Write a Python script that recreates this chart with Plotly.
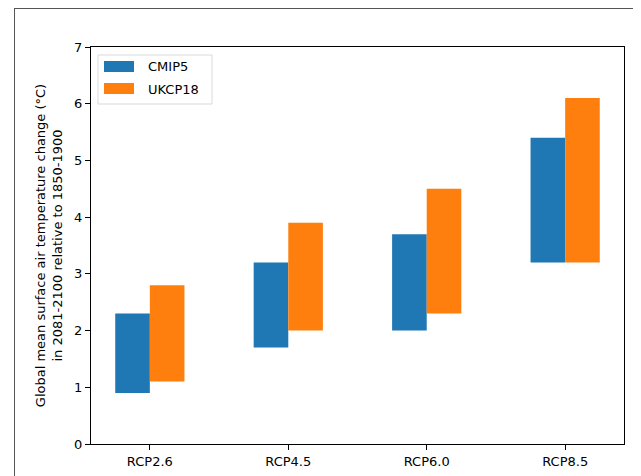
import plotly.graph_objects as go

scenarios = ["RCP2.6", "RCP4.5", "RCP6.0", "RCP8.5"]
cmip5_low = [0.9, 1.7, 2.0, 3.2]
cmip5_high = [2.3, 3.2, 3.7, 5.4]
ukcp18_low = [1.1, 2.0, 2.3, 3.2]
ukcp18_high = [2.8, 3.9, 4.5, 6.1]
series_names = ["CMIP5", "UKCP18"]
colors = ["#1f77b4", "#ff7f0e"]

# page offset (body margin of the html page)
OFF = 8
PW, PH = 641, 476
W, H = PW - OFF, PH - OFF
# plot area in page pixels
L, R, T, B = 91, 624, 47, 444

def px(x):
    return (x - L) / (R - L)

def py(y):
    return (B - y) / (B - T)

fig = go.Figure()
fig.add_trace(go.Bar(
    x=scenarios, y=[h - l for h, l in zip(cmip5_high, cmip5_low)], base=cmip5_low,
    name=series_names[0], marker=dict(color=colors[0], line=dict(width=0)),
    width=0.25, offset=-0.25, showlegend=False))
fig.add_trace(go.Bar(
    x=scenarios, y=[h - l for h, l in zip(ukcp18_high, ukcp18_low)], base=ukcp18_low,
    name=series_names[1], marker=dict(color=colors[1], line=dict(width=0)),
    width=0.25, offset=0.0, showlegend=False))

font = dict(family="DejaVu Sans", size=13, color="#000000")

fig.update_layout(
    width=W, height=H,
    margin=dict(l=L - OFF, r=PW - R, t=T - OFF, b=PH - B, pad=0, autoexpand=False),
    paper_bgcolor="white", plot_bgcolor="white",
    barmode="overlay",
    font=font,
    xaxis=dict(range=[-0.425, 3.425], showgrid=False, zeroline=False, automargin=False,
               showline=True, linecolor="black", linewidth=1, mirror=True,
               ticks="outside", ticklen=5, tickcolor="black",
               tickfont=dict(family="DejaVu Sans", size=13)),
    yaxis=dict(range=[0, 7], dtick=1, showgrid=False, zeroline=False, automargin=False,
               showline=True, linecolor="black", linewidth=1, mirror=True,
               ticks="outside", ticklen=5, tickcolor="black",
               tickfont=dict(family="DejaVu Sans", size=13),
               title=dict(text="Global mean surface air temperature change (°C)<br>in 2081-2100 relative to 1850-1900",
                          font=dict(family="DejaVu Sans", size=13), standoff=8)),
)

shapes = []
# manual legend
shapes.append(dict(type="rect", xref="paper", yref="paper",
                   x0=px(98), x1=px(212), y0=py(104), y1=py(55),
                   line=dict(color="#d9d9d9", width=1), fillcolor="rgba(255,255,255,0.8)"))
shapes.append(dict(type="rect", xref="paper", yref="paper",
                   x0=px(104), x1=px(134), y0=py(72), y1=py(61),
                   line=dict(width=0), fillcolor=colors[0]))
shapes.append(dict(type="rect", xref="paper", yref="paper",
                   x0=px(104), x1=px(134), y0=py(94), y1=py(83),
                   line=dict(width=0), fillcolor=colors[1]))
# window frame (screenshot border)
shapes.append(dict(type="line", xref="paper", yref="paper",
                   x0=px(14), x1=px(639), y0=py(8.5), y1=py(8.5),
                   line=dict(color="#555555", width=1)))
shapes.append(dict(type="line", xref="paper", yref="paper",
                   x0=px(14.5), x1=px(14.5), y0=py(8.5), y1=py(476),
                   line=dict(color="#555555", width=1)))
shapes.append(dict(type="line", xref="paper", yref="paper",
                   x0=px(639.5), x1=px(639.5), y0=py(8.5), y1=py(476),
                   line=dict(color="#cccccc", width=1)))
fig.update_layout(shapes=shapes)

annotations = [
    dict(xref="paper", yref="paper", x=px(146), y=py(66), text=series_names[0],
         showarrow=False, xanchor="left", yanchor="middle", font=font),
    dict(xref="paper", yref="paper", x=px(146), y=py(89), text=series_names[1],
         showarrow=False, xanchor="left", yanchor="middle", font=font),
]
fig.update_layout(annotations=annotations)

fig.write_html("out.html")
